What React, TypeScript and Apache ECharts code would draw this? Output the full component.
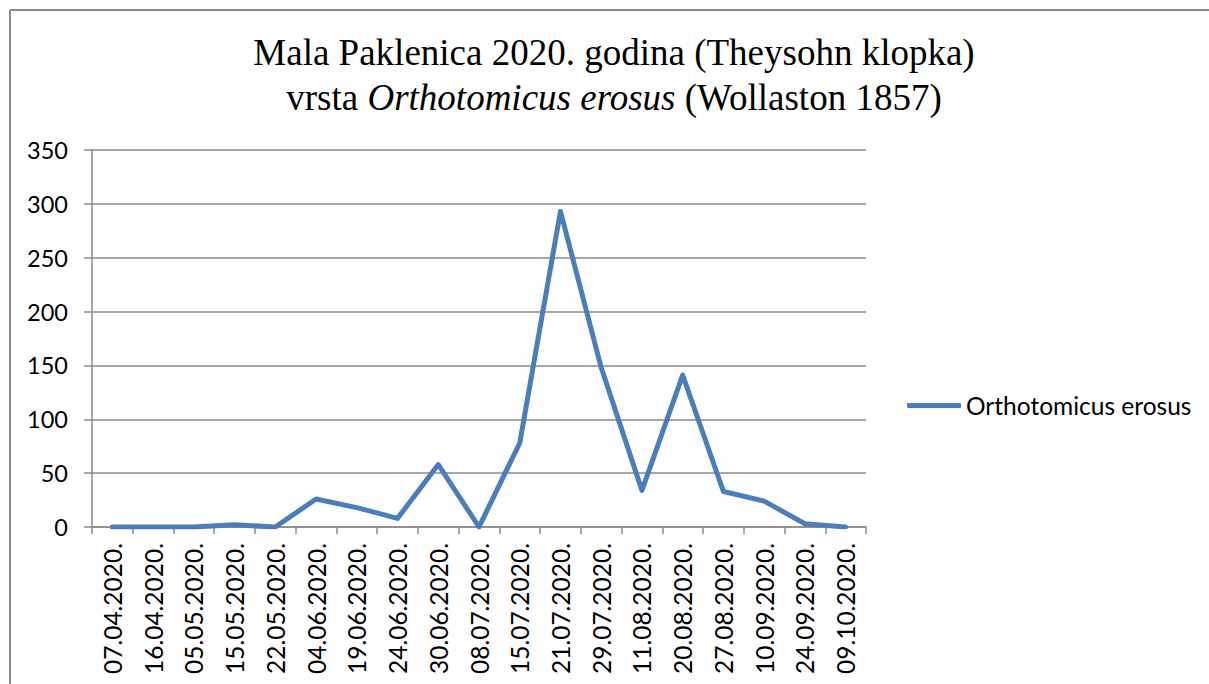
import React, { useEffect, useRef } from "react";
import * as echarts from "echarts";

const categories = [
  "07.04.2020.", "16.04.2020.", "05.05.2020.", "15.05.2020.", "22.05.2020.",
  "04.06.2020.", "19.06.2020.", "24.06.2020.", "30.06.2020.", "08.07.2020.",
  "15.07.2020.", "21.07.2020.", "29.07.2020.", "11.08.2020.", "20.08.2020.",
  "27.08.2020.", "10.09.2020.", "24.09.2020.", "09.10.2020.",
];
const seriesName = "Orthotomicus erosus";
const values = [0, 0, 0, 2, 0, 26, 18, 8, 58, 0, 78, 293, 148, 34, 141, 33, 24, 3, 0];
const yMin = 0;
const yMax = 350;
const yInterval = 50;

const GRAY = "#8a8a8a";
const LINE = "#4a7ebb";
const SANS = "Lato, 'Open Sans', sans-serif";
const SERIF = "Liberation Serif";

export default function App() {
  const ref = useRef<HTMLDivElement>(null);
  useEffect(() => {
    if (!ref.current) return;
    const chart = echarts.init(ref.current, undefined, { renderer: "svg" });
    const serif = { fontFamily: SERIF, fontSize: 37, color: "#000", lineHeight: 45 };
    chart.setOption({
      animation: false,
      backgroundColor: "#ffffff",
      title: {
        text:
          "{n|Mala Paklenica 2020. godina (Theysohn klopka)}\n{n|vrsta }{i|Orthotomicus erosus}{n| (Wollaston 1857)}",
        left: 614,
        top: 30,
        textAlign: "center",
        padding: 0,
        textStyle: {
          fontFamily: SERIF,
          fontSize: 37,
          fontWeight: "normal",
          color: "#000",
          lineHeight: 45,
          rich: {
            n: { ...serif, fontStyle: "normal" },
            i: { ...serif, fontStyle: "italic" },
          },
        },
      },
      legend: {
        left: 907,
        top: 393,
        padding: 0,
        icon: "roundRect",
        itemWidth: 54,
        itemHeight: 5,
        data: [seriesName],
        textStyle: { fontFamily: SANS, fontSize: 24.5, color: "#000" },
      },
      grid: { left: 92, right: 343, top: 150, bottom: 157, containLabel: false },
      xAxis: {
        type: "category",
        data: categories,
        boundaryGap: true,
        axisLine: { show: true, lineStyle: { color: GRAY, width: 1.5 } },
        axisTick: { show: true, length: 7, alignWithLabel: false, lineStyle: { color: GRAY, width: 1.5 } },
        axisLabel: {
          rotate: 90,
          margin: 16,
          interval: 0,
          fontFamily: SANS,
          fontSize: 24.5,
          color: "#000",
        },
      },
      yAxis: {
        type: "value",
        min: yMin,
        max: yMax,
        interval: yInterval,
        axisLine: { show: true, lineStyle: { color: GRAY, width: 1.5 } },
        axisTick: { show: true, length: 8, lineStyle: { color: GRAY, width: 1.5 } },
        splitLine: { show: true, lineStyle: { color: GRAY, width: 1.5 } },
        axisLabel: { margin: 24, fontFamily: SANS, fontSize: 23.5, color: "#000" },
      },
      series: [
        {
          name: seriesName,
          type: "line",
          data: values,
          showSymbol: false,
          symbol: "none",
          lineStyle: { color: LINE, width: 5, join: "round", cap: "round" },
          itemStyle: { color: LINE },
        },
      ],
      graphic: [
        { type: "line", shape: { x1: 10, y1: 10, x2: 1209, y2: 10 }, style: { stroke: GRAY, lineWidth: 2 } },
        { type: "line", shape: { x1: 10, y1: 10, x2: 10, y2: 684 }, style: { stroke: GRAY, lineWidth: 2 } },
      ],
    });
    return () => chart.dispose();
  }, []);
  return (
    <div
      ref={ref}
      style={{ position: "absolute", left: 0, top: 0, width: 1209, height: 684 }}
    />
  );
}
